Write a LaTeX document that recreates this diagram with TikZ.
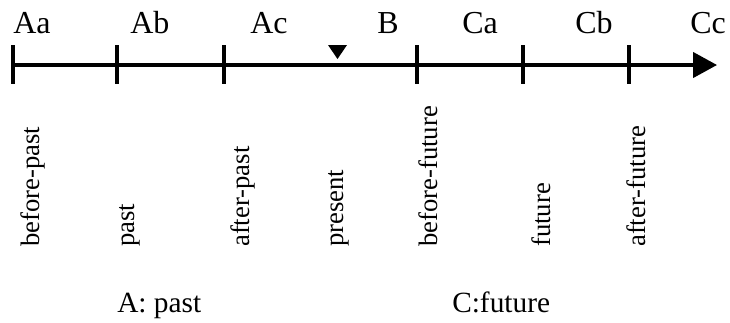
\documentclass[tikz,border=0pt]{standalone}
\usepackage{fontspec}
\setmainfont{Liberation Serif}
\usetikzlibrary{arrows.meta}

\begin{document}
\begin{tikzpicture}[
  x=0.75pt, y=-0.75pt,
  axis/.style={line width=2.5pt, -{Triangle[length=18pt, width=19pt]}},
  tickline/.style={line width=2.5pt},
  toplabel/.style={anchor=base west, inner sep=0pt, font=\fontsize{24}{28}\selectfont},
  vlabel/.style={rotate=90, anchor=base west, inner sep=0pt, font=\fontsize{20}{24}\selectfont},
  partlabel/.style={anchor=base west, inner sep=0pt, font=\fontsize{22}{26}\selectfont}
]
  \useasboundingbox (0,0) rectangle (730,322);

  % time axis
  \coordinate (start) at (13,65);
  \coordinate (end) at (717,65);
  \draw[axis] (start) -- (end);
  \foreach \x in {13,117,224,417,523,629}
    \draw[tickline] (\x,45) -- (\x,84);
  \fill (328,45) -- (347,45) -- (337.5,59) -- cycle;

  % points
  \node[toplabel] (aa) at (13,33) {Aa};
  \node[toplabel] (ab) at (130,33) {Ab};
  \node[toplabel] (ac) at (250,33) {Ac};
  \node[toplabel] (b) at (377,33) {B};
  \node[toplabel] (ca) at (462,33) {Ca};
  \node[toplabel] (cb) at (575,33) {Cb};
  \node[toplabel] (cc) at (690,33) {Cc};

  % tenses
  \node[vlabel] (bp) at (39,247) {before-past};
  \node[vlabel] (past) at (134,247) {past};
  \node[vlabel] (ap) at (249,247) {after-past};
  \node[vlabel] (pres) at (343,247) {present};
  \node[vlabel] (bf) at (437,247) {before-future};
  \node[vlabel] (fut) at (550,247) {future};
  \node[vlabel] (af) at (645,247) {after-future};

  % parts
  \node[partlabel] (pa) at (117,312) {A: past};
  \node[partlabel] (pc) at (452,312) {C:future};
\end{tikzpicture}
\end{document}
